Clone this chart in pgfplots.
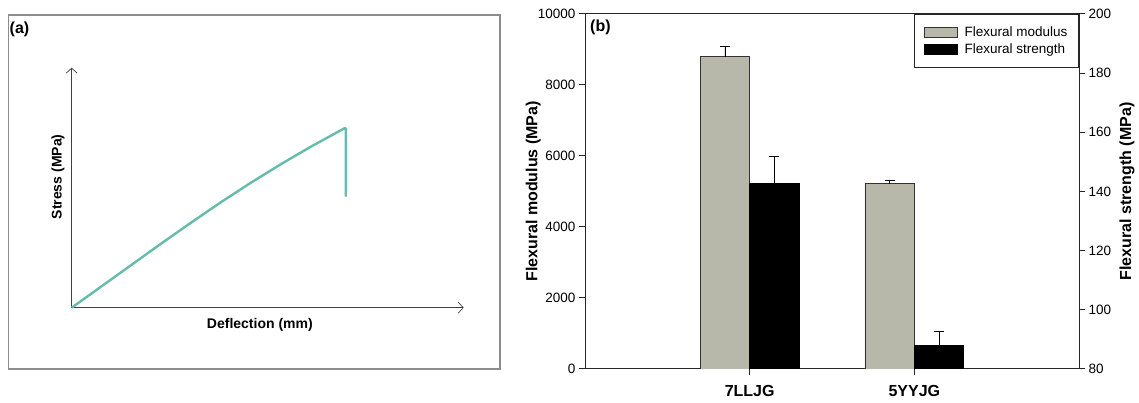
\documentclass[border=0pt]{standalone}
\usepackage{fontspec}
\setmainfont{Liberation Sans}
\usepackage{pgfplots}
\pgfplotsset{compat=1.18}
\usetikzlibrary{arrows.meta}
\definecolor{modgray}{RGB}{183,183,170}
\definecolor{curveteal}{RGB}{102,188,172}
\newcommand{\fs}[1]{\fontsize{#1}{#1}\selectfont}

\begin{document}
\begin{tikzpicture}[x=1pt,y=1pt]
\useasboundingbox (0,0) rectangle (1139,403);
% ---------------- panel (a) ----------------
\draw[black!45, line width=1.2pt] (8.5,388) rectangle (500,34);
\node[anchor=west, inner sep=0pt, font=\fs{16}\bfseries] at (9.5,374) {(a)};
\begin{axis}[
  at={(71.7pt,95.3pt)}, anchor=south west,
  width=392pt, height=240pt, scale only axis,
  xmin=0, xmax=392, ymin=0, ymax=240,
  axis lines=left, ticks=none,
  axis line style={draw=black!75, line width=0.7pt, -{Straight Barb[length=5pt,width=11pt]}},
  xlabel={Deflection (mm)}, ylabel={Stress (MPa)},
  every axis x label/.style={at={(axis description cs:0.48,-0.072)}, anchor=center, font=\fs{14}\bfseries},
  every axis y label/.style={at={(axis description cs:-0.035,0.545)}, rotate=90, anchor=center, font=\fs{14}\bfseries},
  clip=false,
]
\addplot[curveteal, line width=2.4pt, line join=round] coordinates {
(0,0) (30,21.5) (60,43) (90,64.5) (120,85.5) (150,106) (180,125.5) (210,144) (240,161.5) (273,179.5) (274,179.5) (274,111)};
\end{axis}
% ---------------- panel (b) ----------------
\begin{axis}[
  at={(585pt,34pt)}, anchor=south west,
  width=494pt, height=355pt, scale only axis,
  xmin=0, xmax=3, ymin=0, ymax=10000,
  xtick={1,2}, xticklabels={7LLJG,5YYJG},
  ytick={0,2000,4000,6000,8000,10000},
  scaled y ticks=false,
  xtick pos=left, ytick pos=left, tick align=outside,
  major tick length=6pt,
  axis line style={draw=black!85, line width=1pt},
  every tick/.style={black!85, line width=1pt},
  xticklabel style={font=\fs{16}\bfseries, yshift=-6.5pt},
  yticklabel style={font=\fs{13.5}, /pgf/number format/fixed, /pgf/number format/1000 sep={}},
  /pgf/number format/.cd, 1000 sep={}, assume math mode=true,
  /pgfplots/.cd,
  ylabel={Flexural modulus (MPa)},
  every axis y label/.style={at={(axis description cs:-0.105,0.5)}, rotate=90, anchor=center, font=\fs{16}\bfseries},
]
\addplot[ybar, bar width=0.3, bar shift=0pt, fill=modgray, draw=black!80, line width=0.8pt,
  error bars/.cd, y dir=plus, y explicit,
  error bar style={black, line width=0.8pt},
  error mark options={rotate=90, mark size=5pt, black, line width=0.8pt}]
  coordinates {(0.85,8800) +- (0,280) (1.85,5220) +- (0,85)};
\end{axis}
\begin{axis}[
  at={(585pt,34pt)}, anchor=south west,
  width=494pt, height=355pt, scale only axis,
  xmin=0, xmax=3, ymin=80, ymax=200,
  axis x line=none, axis y line*=right,
  ytick={80,100,120,140,160,180,200},
  tick align=outside, major tick length=6pt,
  axis line style={draw=black!85, line width=1pt},
  every tick/.style={black!85, line width=1pt},
  yticklabel style={font=\fs{13.5}},
  /pgf/number format/.cd, assume math mode=true,
  /pgfplots/.cd,
  ylabel={Flexural strength (MPa)},
  every axis y label/.style={at={(axis description cs:1.097,0.5)}, rotate=90, anchor=center, font=\fs{16}\bfseries},
  legend style={at={(1,1)}, anchor=north east, draw=black!85, line width=1pt,
    font=\fs{13.5}, inner xsep=9pt, inner ysep=10pt, row sep=2pt, fill=white,
    /tikz/every odd column/.append style={column sep=5pt}},
  legend cell align=left,
]
\addplot[ybar, bar width=0.3, bar shift=0pt, fill=black, draw=black, line width=0.8pt, forget plot,
  error bars/.cd, y dir=plus, y explicit,
  error bar style={black, line width=0.8pt},
  error mark options={rotate=90, mark size=5pt, black, line width=0.8pt}]
  coordinates {(1.15,142.8) +- (0,9.2) (2.15,88.1) +- (0,4.7)};
\addlegendimage{legend image code/.code={\draw[fill=modgray, draw=black!80, line width=0.8pt] (0pt,-5pt) rectangle (33pt,5pt);}}
\addlegendentry{Flexural modulus}
\addlegendimage{legend image code/.code={\draw[fill=black, draw=black, line width=0.8pt] (0pt,-5pt) rectangle (33pt,5pt);}}
\addlegendentry{Flexural strength}
\end{axis}
\node[anchor=west, inner sep=0pt, font=\fs{16}\bfseries] at (590,375.3) {(b)};
\end{tikzpicture}
\end{document}
